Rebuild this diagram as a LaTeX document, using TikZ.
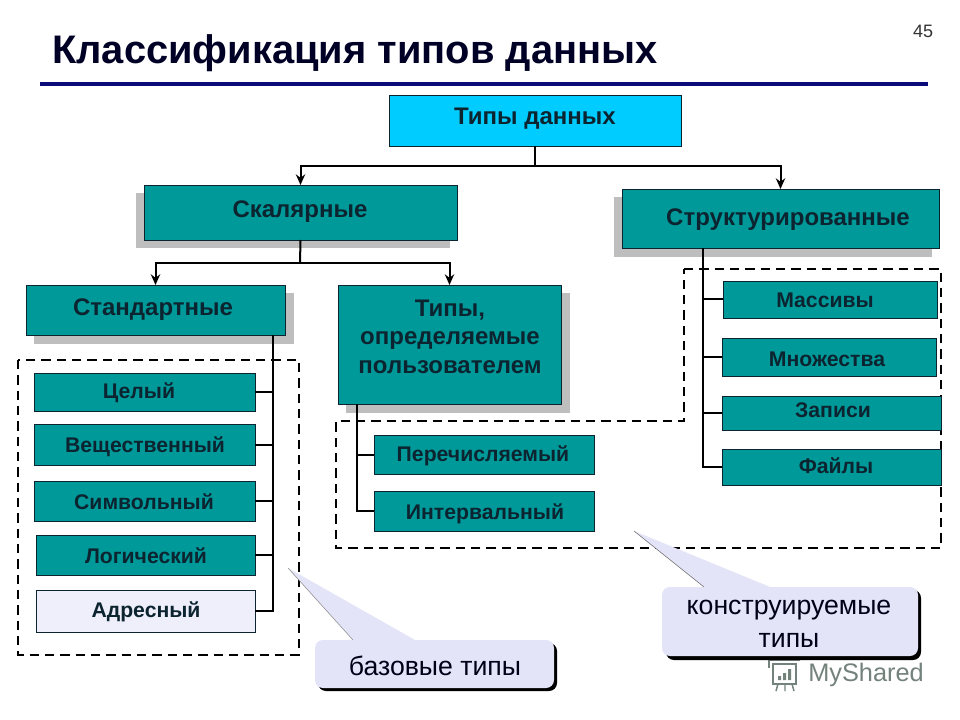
\documentclass[tikz,border=0pt]{standalone}
\usepackage{fontspec}
\setmainfont{Liberation Sans}
\usetikzlibrary{arrows.meta}
\definecolor{teal1}{HTML}{009999}
\definecolor{cyan1}{HTML}{00CCFF}
\definecolor{lav}{HTML}{E4E4F8}
\definecolor{shadowgrey}{HTML}{BEBEBE}
\definecolor{ink}{HTML}{0C2430}
\definecolor{navy}{HTML}{0A0A78}
\definecolor{wm}{HTML}{74827C}
\newcommand\fs[1]{\pgfmathsetmacro\myfs{#1*0.75}\fontsize{\myfs}{\myfs}\selectfont}
\newcommand\sbx[8][teal1]{% fill,name,x1,y1,x2,y2,text-pos,text
  \pgfmathsetmacro\mycx{(#3+#5)/2}\pgfmathsetmacro\mycy{(#4+#6)/2}
  \pgfmathsetmacro\mywd{(#5-#3)*0.75}\pgfmathsetmacro\myht{(#6-#4)*0.75}
  \node[boxst,fill=#1,minimum width=\mywd pt,minimum height=\myht pt] (#2) at (\mycx,\mycy) {};
  \node[boxtxt] (#2t) at #7 {#8};}
\tikzset{
  x=0.75pt,y=-0.75pt,
  boxst/.style={draw=ink,line width=0.7pt,inner sep=0pt,outer sep=0pt},
  boxtxt/.style={text=ink,font=\bfseries,inner sep=0pt,align=center},
  link/.style={draw=black,line width=1.5pt},
  arr/.style={link,-{Stealth[length=8pt,width=7pt]}},
  zone/.style={draw=black,line width=1.3pt,dash pattern=on 7pt off 4.5pt},
  note/.style={fill=lav,draw=none},
  notetxt/.style={text=black!90!blue,inner sep=0pt,align=center,font=\fontsize{20}{24.75}\selectfont},
}
\begin{document}
\begin{tikzpicture}
\useasboundingbox[fill=white] (0,0) rectangle (960,720);
% title
\node[anchor=west,inner sep=0pt,text=black!85!blue,font=\bfseries\fontsize{29.9}{34}\selectfont] (title) at (52,53) {Классификация типов данных};
\node[inner sep=0pt,text=black!80,font=\fontsize{13.5}{16}\selectfont] (page) at (923,31) {45};
\coordinate (ruleL) at (40,84);
\coordinate (ruleR) at (928,84);
\draw[navy,line width=2.6pt] (ruleL) -- (ruleR);
% shadows
\fill[shadowgrey] (136,193) rectangle (450,248);
\fill[shadowgrey] (614,197) rectangle (932,257);
\fill[shadowgrey] (34,293) rectangle (294,344);
\fill[shadowgrey] (346,293) rectangle (570,413);
% dashed zones
\draw[zone] (18,360) rectangle (299,655);
\draw[zone] (684,269) -- (941,269) -- (941,548) -- (336,548) -- (336,421) -- (684,421) -- cycle;
% boxes
\sbx[cyan1]{root}{389}{95}{681}{146}{(535,118.5)}{\fs{24}Типы данных}
\sbx{scal}{144}{185}{457}{240}{(300,211.5)}{\fs{24}Скалярные}
\sbx{stru}{622}{189}{939}{248}{(788,219.5)}{\fs{24}Структурированные}
\sbx{std}{26}{285}{285}{335}{(153,309.5)}{\fs{24}Стандартные}
\sbx{usr}{338}{285}{561}{404}{(450,337)}{\fs{24}Типы,\\[7.2pt]\fs{24}определяемые\\[7.2pt]\fs{24}пользователем}
\sbx{arr}{723}{281}{937}{318}{(825,300.5)}{\fs{21.2}Массивы}
\sbx{set}{722}{338}{936}{376}{(827,359.5)}{\fs{21.2}Множества}
\sbx{rec}{722}{396}{941}{430}{(833,410.5)}{\fs{21.2}Записи}
\sbx{fil}{722}{449}{941}{485}{(836,466)}{\fs{21.2}Файлы}
\sbx{int}{34}{373}{255}{411}{(139,392.5)}{\fs{21.2}Целый}
\sbx{rea}{34}{424}{255}{465}{(145,446.5)}{\fs{21.2}Вещественный}
\sbx{sym}{34}{481}{255}{521}{(144,501.5)}{\fs{21.2}Символьный}
\sbx{log}{36}{535}{255}{575}{(146,556)}{\fs{21.2}Логический}
\sbx[lav!60!white]{adr}{36}{590}{255}{632}{(146,611.5)}{\fs{21.2}Адресный}
\sbx{enu}{374}{435}{594}{474}{(483,455.5)}{\fs{21.2}Перечисляемый}
\sbx{ran}{374}{491}{594}{531}{(485,513.5)}{\fs{21.2}Интервальный}
% bus anchors
\coordinate (rootbus) at (535,166);
\coordinate (scalbus) at (300,263);
\coordinate (strubus) at (703,248);
\coordinate (stdbus) at (273,335);
\coordinate (usrbus) at (357,404);
% connectors
\draw[link] (root.south) -- (rootbus);
\draw[arr] (rootbus) -| (scal.north);
\draw[arr] (rootbus) -| (stru.north);
\draw[link] (scal.south) -- (scalbus);
\draw[arr] (scalbus) -| (std.north);
\draw[arr] (scalbus) -| (usr.north);
\draw[link] (strubus) |- (fil.west);
\draw[link] (arr.west) -| (strubus);
\draw[link] (set.west) -| (strubus);
\draw[link] (rec.west) -| (strubus);
\draw[link] (stdbus) |- (adr.east);
\draw[link] (int.east) -| (stdbus);
\draw[link] (rea.east) -| (stdbus);
\draw[link] (sym.east) -| (stdbus);
\draw[link] (log.east) -| (stdbus);
\draw[link] (usrbus) |- (ran.west);
\draw[link] (enu.west) -| (usrbus);
% watermark
\node[anchor=west,inner sep=0pt,text=wm,font=\fontsize{19}{24}\selectfont] (mys) at (808,675) {MyShared};
\draw[wm,line width=1.1pt] (773,664) rectangle (796,684);
\draw[wm,line width=1.1pt] (769,660) -- (800,660) (769,660) -- (769,668);
\draw[wm,line width=1.1pt] (778,684) -- (776,691) (785,684) -- (785,691) (792,684) -- (794,691);
\fill[wm] (778,676) rectangle (781,680) (783,673) rectangle (786,680) (788,669) rectangle (791,680);
% callouts
\fill[black,rounded corners=6pt] (318,643) rectangle (557,691);
\fill[note] (288,568) -- (353,640) -- (415,640) -- cycle;
\fill[note,rounded corners=6pt] (315,640) rectangle (554,688);
\draw[black!45,line width=0.4pt] (288,568) -- (353,640);
\node[notetxt] (nb) at (435,666) {базовые типы};
\fill[black,rounded corners=6pt] (666,590) rectangle (921,660);
\fill[note] (634,531) -- (704,587) -- (770,587) -- cycle;
\fill[note,rounded corners=6pt] (662,587) rectangle (918,656);
\draw[black!60,line width=0.4pt] (634,531) -- (704,587);
\node[notetxt] (nc) at (789,624) {конструируемые\\типы};
\end{tikzpicture}
\end{document}
